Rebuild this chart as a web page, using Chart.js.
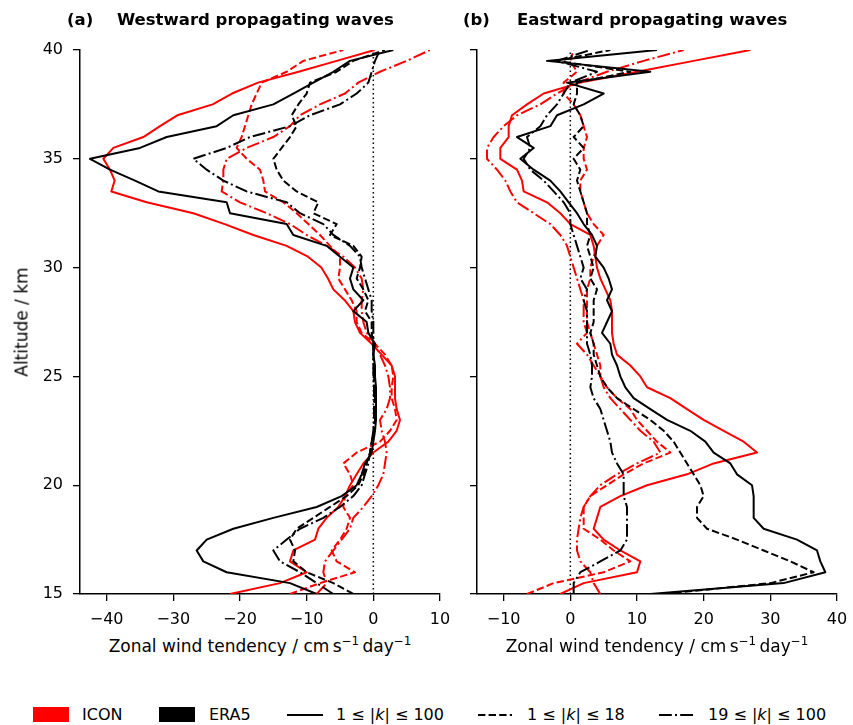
<!DOCTYPE html>
<html lang="en">

<head>
  <meta charset="UTF-8">
  <title>Westward and eastward propagating waves</title>
  <style>
/* Page */
body {
  margin: 0;
  width: 853px;
  height: 725px;
  position: relative;
  overflow: hidden;
  background-color: #fff;
  color: #000;
  font-family: "DejaVu Sans", sans-serif;
}

canvas {
  position: absolute;
  top: 0;
}

#chartWest { left: 0; }
#chartEast { left: 397px; }

/* Text placed round the charts */
.txt {
  position: absolute;
  font-size: 16px;
  line-height: 16px;
  white-space: nowrap;
}

.title {
  font-weight: bold;
  font-size: 16.5px;
}

.xlabel {
  top: 638px;
  font-size: 17px;
  line-height: 17px;
  transform: translateX(-50%);
}

.xlabel sup {
  font-size: 0.7em;
  line-height: 0;
  vertical-align: 0.55em;
}

.ylabel {
  left: 22px;
  top: 322px;
  font-size: 17px;
  line-height: 17px;
  transform: translate(-50%, -50%) rotate(-90deg);
}

/* Legend */
.swatch {
  position: absolute;
  top: 707px;
  width: 36px;
  height: 15px;
}

.key {
  position: absolute;
  top: 713px;
}
  </style>
</head>

<body>
  <canvas id="chartWest" width="450" height="630"></canvas>
  <canvas id="chartEast" width="450" height="630"></canvas>

  <div class="txt title" style="left:67px; top:12px;">(a)</div>
  <div class="txt title" style="left:117px; top:12px;">Westward propagating waves</div>
  <div class="txt title" style="left:463px; top:12px;">(b)</div>
  <div class="txt title" style="left:517px; top:12px;">Eastward propagating waves</div>

  <div class="txt ylabel">Altitude / km</div>
  <div class="txt xlabel" style="left:260px;">Zonal wind tendency / cm&#8201;s<sup>−1</sup>&#8201;day<sup>−1</sup></div>
  <div class="txt xlabel" style="left:657px;">Zonal wind tendency / cm&#8201;s<sup>−1</sup>&#8201;day<sup>−1</sup></div>

  <!-- Legend -->
  <div class="swatch" style="left:33px; background:#ff0000;"></div>
  <div class="txt" style="left:82px; top:707px;">ICON</div>
  <div class="swatch" style="left:159px; background:#000;"></div>
  <div class="txt" style="left:209px; top:707px;">ERA5</div>

  <svg class="key" style="left:287px;" width="36" height="4"><line x1="0" y1="2" x2="36" y2="2" stroke="#000" stroke-width="2"/></svg>
  <div class="txt" style="left:336px; top:707px;">1 ≤ |<i>k</i>| ≤ 100</div>
  <svg class="key" style="left:478px;" width="34" height="4"><line x1="0" y1="2" x2="34" y2="2" stroke="#000" stroke-width="2" stroke-dasharray="7.4 3.2"/></svg>
  <div class="txt" style="left:527px; top:707px;">1 ≤ |<i>k</i>| ≤ 18</div>
  <svg class="key" style="left:659px;" width="36" height="4"><line x1="0" y1="2" x2="36" y2="2" stroke="#000" stroke-width="2" stroke-dasharray="12.8 3.2 2 3.2"/></svg>
  <div class="txt" style="left:708px; top:707px;">19 ≤ |<i>k</i>| ≤ 100</div>

  <script src="https://cdn.jsdelivr.net/npm/chart.js"></script>
  <script>
    // Altitude levels (km), bottom to top
    const altitude = [15, 15.5, 16, 16.5, 17, 17.5, 18, 18.5, 19, 19.5,
      20, 20.5, 21, 21.5, 22, 22.5, 23, 23.5, 24, 24.5,
      25, 25.5, 26, 26.5, 27, 27.5, 28, 28.5, 29, 29.5,
      30, 30.5, 31, 31.5, 32, 32.5, 33, 33.5, 34, 34.5,
      35, 35.5, 36, 36.5, 37, 37.5, 38, 38.5, 39, 39.5, 40];

    const altTicks = [15, 20, 25, 30, 35, 40];
    const westTicks = [-40, -30, -20, -10, 0, 10];
    const eastTicks = [-10, 0, 10, 20, 30, 40];

    // (a) westward propagating waves, cm/s/day
    const westIconAll = [-21.5, -14, -10, -12.5, -12, -8.75, -8.25, -7, -5.25, -4.25, -3.5, -2.5, -1.5, 0, 2.25, 3.5, 4, 3.5, 3.25, 3.25, 3.25, 2.75, 1.25, -0.25, -2, -2.75, -3, -4.3, -6, -6.8, -7.8, -9.8, -13, -18, -22.3, -27, -34, -39.3, -38.8, -39.5, -40.5, -39, -34.5, -32, -29.4, -24.1, -21.2, -17.3, -11.2, -5.5, 0.2];
    const westIconLow = [-12.5, -8, -2.75, -5.5, -6.25, -5, -4, -3.5, -4.5, -4.25, -3, -3.5, -4.5, -2.5, 1, 2.5, 3.5, 3.25, 2.75, 2.75, 3, 2.75, 1.75, 0.25, -1.75, -2.5, -2.5, -3.25, -4.25, -5.25, -5, -5, -6.5, -8, -9.75, -11.5, -13.5, -16.25, -16.5, -17, -19, -20.5, -19.75, -19.25, -18.75, -18.25, -17.5, -16.75, -13, -10.5, -4.5];
    const westIconHigh = [-8.5, -7, -7.5, -7.25, -6, -4.75, -3.5, -3, -1.5, -0.25, 0.75, 1.5, 1.75, 2, 1.75, 1.25, 1, 2, 2.5, 2.5, 2.25, 1.75, 1, 0.25, -1, -1.5, -1.75, -1.75, -1.5, -1.75, -2.75, -4.5, -7, -10, -12.5, -16, -20, -22.75, -22.5, -22.5, -22, -19, -15, -12.5, -11, -8, -4.25, -2.25, 1, 5, 8.5];
    const westEraAll = [-8.5, -12.5, -22, -25.5, -26.5, -25, -21, -15, -8.5, -4.75, -2.5, -1.75, -1.25, -0.25, 0, 0.25, 0.4, 0.4, 0.4, 0.4, 0.25, 0.25, 0, 0.25, -0.75, -1, -3, -1.5, -3, -3.5, -3, -5, -7, -12, -13, -21.5, -22, -32.25, -35.75, -39.5, -42.5, -35, -31, -23.5, -21, -15, -12, -9, -6, -3.5, 3];
    const westEraLow = [-3, -6, -10, -12, -11.75, -12.5, -11.5, -9, -6.5, -4, -2.25, -1.5, -1, -0.5, -0.25, 0.1, 0.25, 0.25, 0.25, 0.25, 0.1, 0.1, 0, 0, -0.25, -0.25, -1.25, -0.75, -1.5, -2.5, -2, -1.75, -3, -6.5, -5.5, -9, -8.25, -11.5, -13.5, -14.5, -15, -13.75, -12.5, -11.5, -12.25, -11.25, -10, -9.5, -5.5, -3, 1.75];
    const westEraHigh = [-6, -8.5, -11, -14, -15, -13, -11, -7.5, -5, -3, -1.75, -1.25, -0.75, -0.5, -0.25, 0, 0.1, 0.1, 0.1, 0.1, 0, 0, 0, 0, 0, 0, -0.25, -0.25, -0.75, -1.25, -1.75, -2, -3.5, -6, -7.5, -11, -13, -19, -22.5, -25, -27, -22, -18.5, -12.5, -9.5, -5, -2.5, -0.75, -0.25, 0.25, 1];

    // (b) eastward propagating waves, cm/s/day
    const eastIconAll = [-1.5, 2, 10, 10.5, 7.5, 5, 3.5, 4, 4.5, 7.5, 11.5, 17.5, 21.5, 28, 26, 23, 20, 17.5, 15, 11.5, 10.5, 9, 7, 6.5, 6.25, 6.25, 6.25, 6, 5.25, 4.5, 4, 3.75, 3.5, 3, 0, -1.5, -3.5, -7, -7.25, -8, -10.5, -10.5, -9.25, -9.25, -8.75, -6.5, -4, 1.5, 10, 18.5, 27];
    const eastIconLow = [-6.5, -2.5, 5, 9, 6.5, 4.5, 2, 2, 2, 3, 5.5, 8, 11, 15, 13, 11.5, 10, 9, 7, 5.5, 4.5, 4.5, 4, 3.5, 3, 2.5, 2.5, 2.5, 2.5, 3, 3, 3.5, 4, 5, 3.5, 2.5, 2, 1.5, 1.5, 2.5, 2, 2, 2.5, 2, 1.5, 0.5, -1, -1, 1, 0, 0.5];
    const eastIconHigh = [4.5, 3.5, 3, 1.5, 1, 1, 1.25, 1.5, 2, 3, 4.5, 7, 10, 13.5, 12.5, 10.5, 9, 7.5, 6, 5, 4.5, 3.5, 2.5, 1, 2.5, 2, 2, 2, 1.5, 1, 0.5, 0, -0.5, -1.5, -3, -5.5, -8, -9, -9.75, -11, -12.5, -12.5, -11.5, -10, -8, -4.5, -2, 1, 5.5, 11, 17];
    const eastEraAll = [12, 32, 38.25, 37.5, 37, 34, 29, 27.5, 27.5, 27.5, 27.25, 25, 24, 21.5, 20.25, 18, 14.5, 12, 9.5, 8.25, 7.5, 7, 6.25, 6, 4.75, 5.5, 6.25, 5.5, 6.25, 5.75, 5, 3.75, 4, 3.25, 2, 1, -0.25, -1.5, -3, -5.5, -7.5, -5.5, -8, -3, -2, 2, 5, -0.5, 12, -3.5, 13];
    const eastEraLow = [14, 30, 36.5, 33, 29, 25, 20.5, 19, 19, 20, 19.5, 18.5, 17.5, 16.5, 15.5, 14, 12, 9.5, 7, 5.5, 4.5, 4, 3.5, 3.5, 3, 3.5, 3.5, 3.5, 4, 3, 3.5, 3, 2.5, 3, 2.5, 2.5, 2, 1.5, 1, 1.5, 0.5, 2, 0.5, 2, 1.5, 0.5, 1, 1, 9, -2, 6];
    const eastEraHigh = [0.5, 0.5, 1.5, 4.5, 7.5, 8.5, 8.5, 8.5, 8.5, 8, 8, 8, 7, 6.25, 6, 5.5, 5, 4.5, 3.5, 3, 3.25, 3.25, 3, 2.5, 2.5, 2.5, 2.5, 2, 2.5, 1.5, 2, 1.5, 1, 0.5, 0, 0, -1, -2.5, -4, -6, -7, -6, -6.5, -4.5, -3.5, -2, -1, 0, 4, -2, 3];

    const SOLID = [];
    const DASHED = [7.4, 3.2];
    const DASHDOT = [12.8, 3.2, 2, 3.2];
    const ICON = '#ff0000';
    const ERA5 = '#000000';

    function minus(v) {
      return v < 0 ? '\u2212' + Math.abs(v) : String(v);
    }

    function makePanel(id, series, xMin, xMax, xTicks, showAltLabels) {
      // first dataset is drawn on top, so ERA5 goes first
      const datasets = series.map(s => ({
        data: altitude.map((a, i) => ({ x: s.values[i], y: a })),
        borderColor: s.color,
        borderWidth: 2,
        borderDash: s.dash,
        borderJoinStyle: 'round',
        pointRadius: 0,
        showLine: true,
        fill: false,
        tension: 0
      }));
      // dotted zero line
      datasets.push({
        data: [{ x: 0, y: altitude[0] }, { x: 0, y: altitude[altitude.length - 1] }],
        borderColor: '#000',
        borderWidth: 1.5,
        borderDash: [1.5, 3],
        pointRadius: 0,
        showLine: true
      });

      const axisFont = { family: 'DejaVu Sans', size: 16 };
      const grid = { drawOnChartArea: false, drawTicks: true, tickLength: 7, color: '#000', lineWidth: 1.3 };
      const border = { display: true, color: '#000', width: 1.5 };

      new Chart(document.getElementById(id), {
        type: 'scatter',
        data: { datasets: datasets },
        options: {
          responsive: false,
          animation: false,
          devicePixelRatio: 1,
          layout: { padding: { top: 50, right: 10, left: 0, bottom: 0 } },
          plugins: { legend: { display: false }, tooltip: { enabled: false } },
          scales: {
            x: {
              type: 'linear',
              min: xMin,
              max: xMax,
              afterBuildTicks: s => { s.ticks = xTicks.map(v => ({ value: v })); },
              afterFit: s => { s.height = 36; s.paddingLeft = 0; s.paddingRight = 0; },
              grid: grid,
              border: border,
              ticks: { color: '#000', font: axisFont, padding: 9, maxRotation: 0, autoSkip: false, callback: minus }
            },
            y: {
              type: 'linear',
              min: altitude[0],
              max: altitude[altitude.length - 1],
              afterBuildTicks: s => { s.ticks = altTicks.map(v => ({ value: v })); },
              afterFit: s => { s.width = 80; s.paddingTop = 0; s.paddingBottom = 0; },
              grid: grid,
              border: border,
              ticks: { display: showAltLabels, color: '#000', font: axisFont, padding: 10, autoSkip: false, callback: minus }
            }
          }
        }
      });
    }

    makePanel('chartWest', [
      { values: westEraAll, color: ERA5, dash: SOLID },
      { values: westEraLow, color: ERA5, dash: DASHED },
      { values: westEraHigh, color: ERA5, dash: DASHDOT },
      { values: westIconAll, color: ICON, dash: SOLID },
      { values: westIconLow, color: ICON, dash: DASHED },
      { values: westIconHigh, color: ICON, dash: DASHDOT }
    ], -44, 10, westTicks, true);

    makePanel('chartEast', [
      { values: eastEraAll, color: ERA5, dash: SOLID },
      { values: eastEraLow, color: ERA5, dash: DASHED },
      { values: eastEraHigh, color: ERA5, dash: DASHDOT },
      { values: eastIconAll, color: ICON, dash: SOLID },
      { values: eastIconLow, color: ICON, dash: DASHED },
      { values: eastIconHigh, color: ICON, dash: DASHDOT }
    ], -14, 40, eastTicks, false);
  </script>
</body>

</html>
